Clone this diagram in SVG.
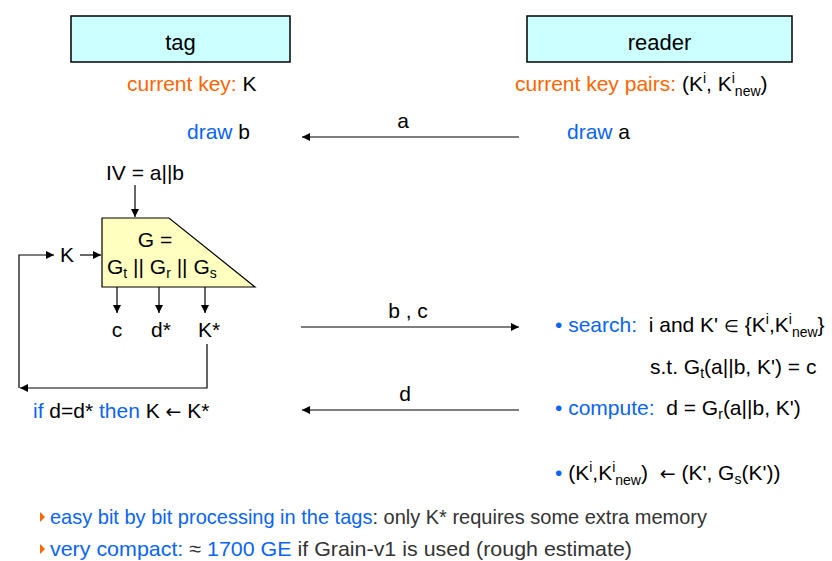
<svg xmlns="http://www.w3.org/2000/svg" width="832" height="561" viewBox="0 0 832 561">
<defs>
<style>
text{font-family:"Liberation Sans",Arial,sans-serif;font-size:21px;fill:#000;white-space:pre}
.o{fill:#ff6600}
.b{fill:#0a64f5}
.g{fill:#333}
.sm{font-size:14px}
.el{font-size:17px}
.ar{font-family:"DejaVu Sans",sans-serif;font-size:19px}
.hd{font-size:22px}
.box{fill:#ccffff;stroke:#000;stroke-width:1.5}
.ln{fill:none;stroke:#000;stroke-width:1.2}
</style>
<marker id="ah" viewBox="0 0 10 10" refX="10" refY="5" markerWidth="8" markerHeight="8" markerUnits="userSpaceOnUse" orient="auto">
<path d="M0,0 L10,5 L0,10 z" fill="#000"/>
</marker>
</defs>
<rect width="832" height="561" fill="#fff"/>

<g id="tag">
<rect class="box" x="71" y="16" width="219" height="46"/>
<text class="hd" x="180.5" y="50" text-anchor="middle">tag</text>
<text x="127" y="91"><tspan class="o">current key:</tspan> K</text>
<text x="187" y="139"><tspan class="b">draw</tspan> b</text>
</g>

<g id="reader">
<rect class="box" x="527" y="16" width="265" height="46"/>
<text class="hd" x="659.5" y="50" text-anchor="middle">reader</text>
<text x="515" y="91"><tspan class="o">current key pairs:</tspan> (K<tspan class="sm" dy="-8">i</tspan><tspan dy="8">, K</tspan><tspan class="sm" dy="-8">i</tspan><tspan class="sm" dy="13">new</tspan><tspan dy="-5">)</tspan></text>
<text x="567" y="139"><tspan class="b">draw</tspan> a</text>
</g>

<g id="iv">
<text x="106" y="180">IV = a||b</text>
</g>

<g id="generator">
<polygon points="102,218 169,218 255,287 102,287" fill="#ffffc0" stroke="#000" stroke-width="1.2"/>
<text x="155" y="247" text-anchor="middle">G =</text>
<text x="107" y="274">G<tspan class="sm" dy="4">t</tspan><tspan dy="-4"> || G</tspan><tspan class="sm" dy="4">r</tspan><tspan dy="-4"> || G</tspan><tspan class="sm" dy="4">s</tspan></text>
</g>

<g id="kin">
<text x="60" y="262">K</text>
</g>

<g id="outputs">
<text x="117" y="337" text-anchor="middle">c</text>
<text x="161" y="337" text-anchor="middle">d*</text>
<text x="209" y="337" text-anchor="middle">K*</text>
</g>

<g id="update">
<text x="33" y="418"><tspan class="b">if</tspan> d=d* <tspan class="b">then</tspan> K <tspan class="ar">←</tspan> K*</text>
</g>

<g id="search">
<text x="555" y="332"><tspan class="b">• search:</tspan>  i and K' <tspan class="el">∈</tspan> {K<tspan class="sm" dy="-8">i</tspan><tspan dy="8">,K</tspan><tspan class="sm" dy="-8">i</tspan><tspan class="sm" dy="13">new</tspan><tspan dy="-5">}</tspan></text>
<text x="650" y="374">s.t. G<tspan class="sm" dy="4">t</tspan><tspan dy="-4">(a||b, K') = c</tspan></text>
</g>

<g id="compute">
<text x="555" y="415"><tspan class="b">• compute:</tspan>  d = G<tspan class="sm" dy="4">r</tspan><tspan dy="-4">(a||b, K')</tspan></text>
</g>

<g id="assign">
<text x="555" y="480"><tspan class="b">•</tspan> (K<tspan class="sm" dy="-8">i</tspan><tspan dy="8">,K</tspan><tspan class="sm" dy="-8">i</tspan><tspan class="sm" dy="13">new</tspan><tspan dy="-5">)  </tspan><tspan class="ar">←</tspan> (K', G<tspan class="sm" dy="4">s</tspan><tspan dy="-4">(K'))</tspan></text>
</g>

<g id="notes">
<polygon points="40,512 45,517 40,522" fill="#ff6600"/>
<text x="50" y="524" textLength="657" lengthAdjust="spacingAndGlyphs"><tspan class="b">easy bit by bit processing in the tags</tspan><tspan class="g">: only K* requires some extra memory</tspan></text>
<polygon points="40,544 45,549 40,554" fill="#ff6600"/>
<text x="50" y="556" textLength="582" lengthAdjust="spacingAndGlyphs"><tspan class="b">very compact:</tspan><tspan class="g"> ≈ </tspan><tspan class="b">1700 GE</tspan><tspan class="g"> if Grain-v1 is used (rough estimate)</tspan></text>
</g>

<g id="connectors">
<line class="ln" x1="519" y1="137" x2="302" y2="137" marker-end="url(#ah)"/>
<text x="403" y="128" text-anchor="middle">a</text>
<line class="ln" x1="301" y1="327" x2="519" y2="327" marker-end="url(#ah)"/>
<text x="408" y="318" text-anchor="middle">b , c</text>
<line class="ln" x1="519" y1="410" x2="302" y2="410" marker-end="url(#ah)"/>
<text x="405" y="401" text-anchor="middle">d</text>
<line class="ln" x1="135" y1="185" x2="135" y2="217" marker-end="url(#ah)"/>
<line class="ln" x1="80" y1="255" x2="101" y2="255" marker-end="url(#ah)"/>
<line class="ln" x1="117" y1="287" x2="117" y2="313" marker-end="url(#ah)"/>
<line class="ln" x1="159" y1="287" x2="159" y2="313" marker-end="url(#ah)"/>
<line class="ln" x1="205" y1="287" x2="205" y2="313" marker-end="url(#ah)"/>
<polyline class="ln" points="207,344 207,388 20,388" marker-end="url(#ah)"/>
<polyline class="ln" points="19,388 19,255 54,255" marker-end="url(#ah)"/>
</g>
</svg>
